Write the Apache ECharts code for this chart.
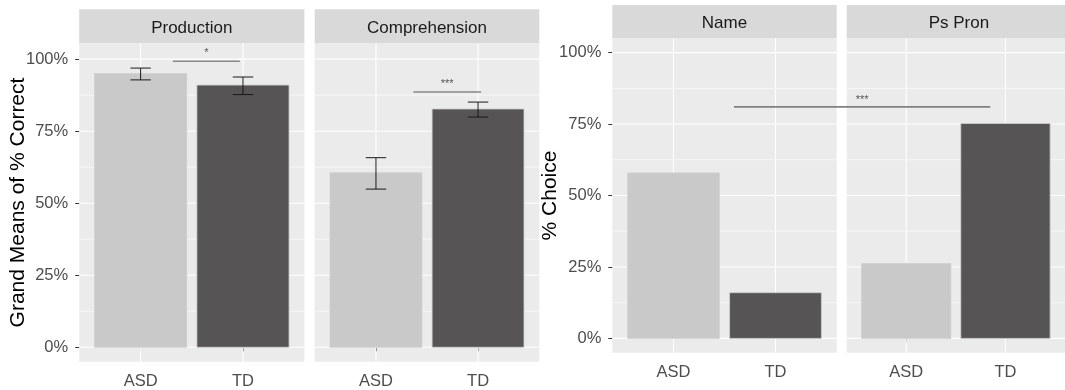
<!DOCTYPE html>
<html>
<head>
<meta charset="utf-8">
<script src="https://cdn.jsdelivr.net/npm/echarts@6/dist/echarts.min.js"></script>
<style>html,body{margin:0;padding:0;background:#fff;}#main{width:1065px;height:390px;}</style>
</head>
<body>
<div id="main"></div>
<script>
// ---------------- data ----------------
const groups = ['ASD', 'TD'];
const groupPos = [1, 2];
const leftPanels = ['Production', 'Comprehension'];
const rightPanels = ['Name', 'Ps Pron'];

const productionMean = [0.950, 0.910];
const productionLow  = [0.928, 0.877];
const productionHigh = [0.969, 0.938];
const comprehensionMean = [0.606, 0.827];
const comprehensionLow  = [0.549, 0.799];
const comprehensionHigh = [0.658, 0.851];

const nameChoice   = [0.579, 0.160];
const psPronChoice = [0.262, 0.752];

const yTicks = [0, 0.25, 0.5, 0.75, 1];
const yTickLabels = ['0%', '25%', '50%', '75%', '100%'];
const yMinor = [0.125, 0.375, 0.625, 0.875];

// significance brackets: [panel index, x] start / end, y of line, y of label
const sigText  = ['*', '***', '***'];
const sigFrom  = [[0, 1.315], [1, 1.366], [2, 1.593]];
const sigTo    = [[0, 1.970], [1, 2.030], [3, 1.847]];
const sigY     = [0.993, 0.886, 0.810];
const sigLabY  = [1.021, 0.913, 0.835];

// ---------------- style / layout ----------------
const FONT = 'Liberation Sans, Arial, sans-serif';
const fills = ['#C9C9C9', '#565454'];
const BAR_HALF = 0.45, CAP_HALF = 0.1;
const panelsLayout = [
  {left: 79.2,  width: 225.2, top: 43.3, height: 318.4, stripTop: 9.3, ymin: -0.05, ymax: 1.055, title: leftPanels[0]},
  {left: 314.7, width: 224.6, top: 43.3, height: 318.4, stripTop: 9.3, ymin: -0.05, ymax: 1.055, title: leftPanels[1]},
  {left: 612.3, width: 224.4, top: 38.3, height: 314.4, stripTop: 5.0, ymin: -0.05, ymax: 1.05, title: rightPanels[0]},
  {left: 846.7, width: 224.4, top: 38.3, height: 314.4, stripTop: 5.0, ymin: -0.05, ymax: 1.05, title: rightPanels[1]}
];
const panelBars = [productionMean, comprehensionMean, nameChoice, psPronChoice];
const panelErr = [[productionLow, productionHigh], [comprehensionLow, comprehensionHigh], null, null];

const chart = echarts.init(document.getElementById('main'), null, {renderer: 'canvas'});

function gridRender(params, api) {
  const cs = params.coordSys;
  const ch = [];
  yMinor.forEach(v => {
    const y = api.coord([1, v])[1];
    ch.push({type: 'line', shape: {x1: cs.x, y1: y, x2: cs.x + cs.width, y2: y}, style: {stroke: '#FFFFFF', lineWidth: 0.6}});
  });
  yTicks.forEach(v => {
    const y = api.coord([1, v])[1];
    ch.push({type: 'line', shape: {x1: cs.x, y1: y, x2: cs.x + cs.width, y2: y}, style: {stroke: '#FFFFFF', lineWidth: 1.1}});
  });
  groupPos.forEach(v => {
    const x = api.coord([v, 0])[0];
    ch.push({type: 'line', shape: {x1: x, y1: cs.y, x2: x, y2: cs.y + cs.height}, style: {stroke: '#FFFFFF', lineWidth: 1.1}});
  });
  return {type: 'group', children: ch};
}
function barRender(params, api) {
  const x = api.value(0), v = api.value(1), k = api.value(2);
  const p0 = api.coord([x - BAR_HALF, v]);
  const p1 = api.coord([x + BAR_HALF, 0]);
  return {type: 'rect', shape: {x: p0[0], y: p0[1], width: p1[0] - p0[0], height: p1[1] - p0[1]},
          style: {fill: fills[k], stroke: '#CFCFCF', lineWidth: 0.8}};
}
function errRender(params, api) {
  const x = api.value(0), lo = api.value(1), hi = api.value(2);
  const a = api.coord([x - CAP_HALF, hi]), b = api.coord([x + CAP_HALF, lo]);
  const c = api.coord([x, 0])[0];
  const st = {stroke: '#1A1A1A', lineWidth: 1};
  return {type: 'group', children: [
    {type: 'line', shape: {x1: a[0], y1: a[1], x2: b[0], y2: a[1]}, style: st},
    {type: 'line', shape: {x1: a[0], y1: b[1], x2: b[0], y2: b[1]}, style: st},
    {type: 'line', shape: {x1: c, y1: a[1], x2: c, y2: b[1]}, style: st}
  ]};
}

const grids = [], xAxes = [], yAxes = [], series = [], graphics = [];
panelsLayout.forEach((p, i) => {
  grids.push({left: p.left, top: p.top, width: p.width, height: p.height, show: true,
              backgroundColor: '#EBEBEB', borderWidth: 0});
  xAxes.push({type: 'value', gridIndex: i, min: 0.4, max: 2.6,
    axisLine: {show: false}, splitLine: {show: false},
    axisTick: {show: true, length: 4, lineStyle: {color: '#333333', width: 1}, customValues: groupPos},
    axisLabel: {show: true, customValues: groupPos, margin: 11, color: '#4D4D4D', fontSize: 16.5, fontFamily: FONT,
                formatter: v => groups[groupPos.indexOf(v)] || ''}
  });
  const showY = (i === 0 || i === 2);
  const y = {type: 'value', gridIndex: i, min: p.ymin, max: p.ymax,
    axisLine: {show: false}, splitLine: {show: false},
    axisTick: {show: showY, length: 4, lineStyle: {color: '#333333', width: 1}, customValues: yTicks},
    axisLabel: {show: showY, customValues: yTicks, margin: 11, color: '#4D4D4D', fontSize: 16.5, fontFamily: FONT,
                formatter: v => yTickLabels[yTicks.indexOf(v)] || ''}
  };
  if (i === 0) { y.name = 'Grand Means of % Correct'; }
  if (i === 2) { y.name = '% Choice'; }
  if (showY) {
    Object.assign(y, {nameLocation: 'middle', nameMoveOverlap: false, nameGap: i === 0 ? 50 : 52,
      nameTextStyle: {color: '#000000', fontSize: 21, fontFamily: FONT}});
  }
  yAxes.push(y);
  series.push({type: 'custom', xAxisIndex: i, yAxisIndex: i, silent: true, z: 1,
               data: [[1, 0]], renderItem: gridRender});
  series.push({type: 'custom', xAxisIndex: i, yAxisIndex: i, silent: true, z: 2,
               data: groupPos.map((g, k) => [g, panelBars[i][k], k]), renderItem: barRender});
  if (panelErr[i]) {
    series.push({type: 'custom', xAxisIndex: i, yAxisIndex: i, silent: true, z: 3,
                 data: groupPos.map((g, k) => [g, panelErr[i][0][k], panelErr[i][1][k]]), renderItem: errRender});
  }
  // strip
  graphics.push({type: 'rect', left: p.left, top: p.stripTop, silent: true,
    shape: {width: p.width, height: p.top - p.stripTop}, style: {fill: '#D9D9D9'}});
  graphics.push({type: 'text', x: p.left + p.width / 2, y: (p.top + p.stripTop) / 2 + 2, silent: true,
    style: {text: p.title, fill: '#1A1A1A', font: '17px ' + FONT, align: 'center', verticalAlign: 'middle'}});
});

chart.setOption({
  animation: false,
  grid: grids, xAxis: xAxes, yAxis: yAxes, series: series, graphic: graphics
});

// significance annotations positioned from data coordinates
sigText.forEach((t, j) => {
  const a = chart.convertToPixel({gridIndex: sigFrom[j][0]}, [sigFrom[j][1], sigY[j]]);
  const b = chart.convertToPixel({gridIndex: sigTo[j][0]}, [sigTo[j][1], sigY[j]]);
  const ly = chart.convertToPixel({gridIndex: sigFrom[j][0]}, [1, sigLabY[j]])[1];
  const wide = sigFrom[j][0] !== sigTo[j][0];
  graphics.push({type: 'line', silent: true, z: 10,
    shape: {x1: a[0], y1: a[1], x2: b[0], y2: b[1]},
    style: {stroke: wide ? '#808080' : '#595959', lineWidth: wide ? 1.7 : 1}});
  graphics.push({type: 'text', silent: true, z: 10, x: (a[0] + b[0]) / 2, y: ly,
    style: {text: t, fill: '#555555', font: '11px ' + FONT, align: 'center', verticalAlign: 'middle'}});
});
chart.setOption({graphic: graphics});
</script>
</body>
</html>
